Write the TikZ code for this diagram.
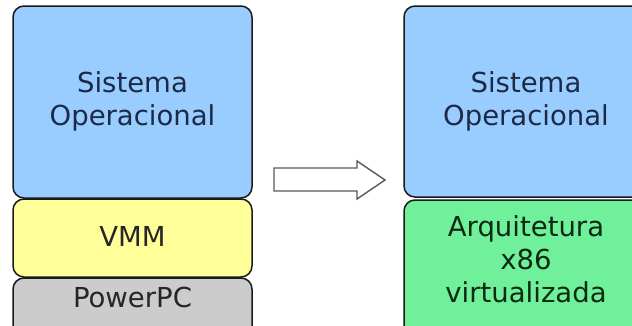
\documentclass[tikz,border=0pt]{standalone}
\usepackage{fontspec}
\setmainfont{DejaVu Sans}
\definecolor{soblue}{HTML}{99CCFF}
\definecolor{vmmyellow}{HTML}{FFFF99}
\definecolor{ppcgray}{HTML}{CCCCCC}
\definecolor{x86green}{HTML}{70F09A}
\definecolor{edge}{HTML}{1A1A1A}
\definecolor{navytext}{HTML}{1C2A48}
\definecolor{greentext}{HTML}{0C2A12}
\begin{document}
\begin{tikzpicture}[x=1pt,y=-1pt,
  layer/.style={draw=edge,line width=1.5pt,rounded corners=11pt,inner sep=0pt},
  lbl/.style={font=\fontsize{27.5}{33}\selectfont,align=center,inner sep=0pt}]
\useasboundingbox (0,0) rectangle (632,325);
\clip (0,0) rectangle (632,325);
% left stack
\node[layer,fill=soblue,minimum width=239pt,minimum height=192pt] (os1) at (132.5,102) {};
\node[layer,fill=vmmyellow,minimum width=239pt,minimum height=78pt] (vmm) at (132.5,238) {};
\node[layer,fill=ppcgray,minimum width=239pt,minimum height=80pt] (ppc) at (132.5,318) {};
\node[lbl,text=navytext] (t1) at (132.5,101.8) {Sistema\\Operacional};
\node[lbl,text=black!85] (t2) at (132.5,236) {VMM};
\node[lbl,text=black!85] (t3) at (132.5,297) {PowerPC};
% right stack
\node[layer,fill=soblue,minimum width=244pt,minimum height=191pt] (os2) at (526,101.5) {};
\node[layer,fill=x86green,minimum width=244pt,minimum height=145pt] (x86) at (526,272.5) {};
\node[lbl,text=navytext] (t4) at (526,101.8) {Sistema\\Operacional};
\node[lbl,text=greentext] (t5) at (526,259.5) {Arquitetura\\x86\\virtualizada};
% block arrow
\draw[draw=black!65,line width=1.4pt,fill=white,line join=miter]
  (274,168) -- (357,168) -- (357,161) -- (385,180) -- (357,199) -- (357,191) -- (274,191) -- cycle;
\end{tikzpicture}
\end{document}
